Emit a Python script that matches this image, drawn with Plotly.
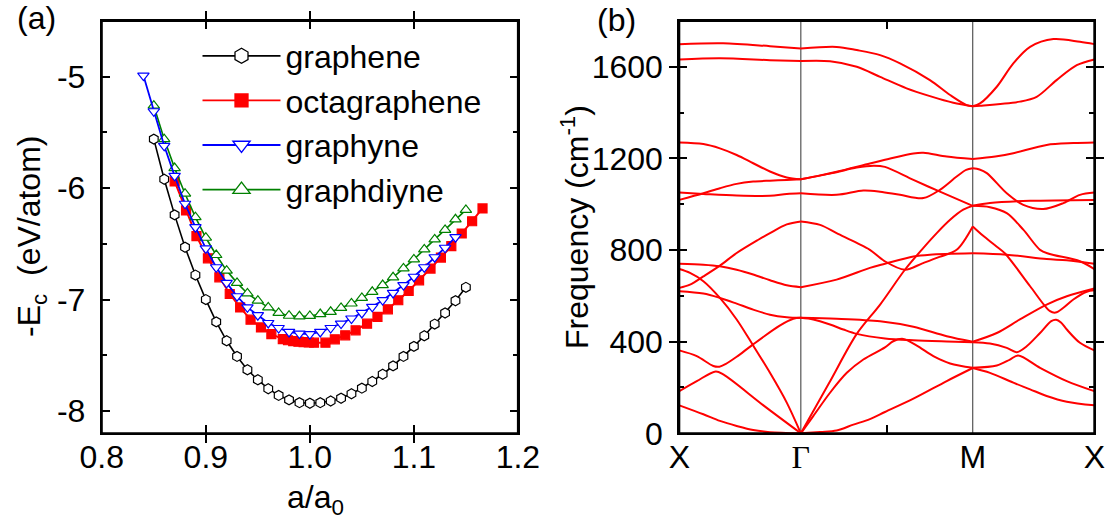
import plotly.graph_objects as go

# ---------------- panel (a): cohesive energy vs. lattice ratio ----------------
graphene_x = [0.85, 0.86, 0.87, 0.88, 0.89, 0.90, 0.91, 0.92, 0.93, 0.94, 0.95,
              0.96, 0.97, 0.98, 0.99, 1.00, 1.01, 1.02, 1.03, 1.04, 1.05, 1.06,
              1.07, 1.08, 1.09, 1.10, 1.11, 1.12, 1.13, 1.14, 1.15]
graphene_y = [-5.56, -5.92, -6.24, -6.53, -6.78, -7.00, -7.20, -7.37, -7.51, -7.63,
              -7.72, -7.80, -7.86, -7.90, -7.925, -7.93, -7.925, -7.91, -7.885,
              -7.845, -7.795, -7.735, -7.67, -7.595, -7.51, -7.42, -7.325, -7.22,
              -7.12, -7.01, -6.89]

octagraphene_x = [0.870, 0.881, 0.891, 0.902, 0.913, 0.923, 0.933, 0.943, 0.953, 0.963,
                  0.974, 0.979, 0.984, 0.989, 0.994, 0.999, 1.004,
                  1.015, 1.024, 1.034, 1.044, 1.055, 1.065, 1.075, 1.085, 1.095,
                  1.105, 1.116, 1.126, 1.136, 1.146, 1.156, 1.166]
octagraphene_y = [-5.94, -6.20, -6.43, -6.63, -6.80, -6.95, -7.07, -7.18, -7.25, -7.31,
                  -7.355, -7.365, -7.372, -7.378, -7.382, -7.385, -7.387,
                  -7.387, -7.357, -7.321, -7.276, -7.216, -7.156, -7.087, -7.006,
                  -6.923, -6.827, -6.722, -6.623, -6.521, -6.407, -6.297, -6.182]

graphyne_x = [0.84, 0.85, 0.86, 0.87, 0.88, 0.89, 0.90, 0.91, 0.92, 0.93, 0.94,
              0.95, 0.96, 0.97, 0.98, 0.99, 1.00, 1.01, 1.02, 1.03, 1.04, 1.05,
              1.06, 1.07, 1.08, 1.09, 1.10, 1.11, 1.12, 1.13, 1.14]
graphyne_y = [-4.99, -5.31, -5.62, -5.89, -6.14, -6.35, -6.54, -6.71, -6.85, -6.97,
              -7.07, -7.14, -7.21, -7.255, -7.29, -7.305, -7.31, -7.29, -7.255,
              -7.215, -7.17, -7.12, -7.065, -7.005, -6.94, -6.87, -6.795, -6.71,
              -6.62, -6.535, -6.44]

graphdiyne_x = [0.85, 0.86, 0.87, 0.88, 0.89, 0.90, 0.91, 0.92, 0.93, 0.94, 0.95,
                0.96, 0.97, 0.98, 0.99, 1.00, 1.01, 1.02, 1.03, 1.04, 1.05, 1.06,
                1.07, 1.08, 1.09, 1.10, 1.11, 1.12, 1.13, 1.14, 1.15]
graphdiyne_y = [-5.26, -5.56, -5.82, -6.05, -6.26, -6.445, -6.60, -6.74, -6.85, -6.945,
                -7.01, -7.07, -7.12, -7.145, -7.15, -7.147, -7.13, -7.11, -7.075,
                -7.035, -6.985, -6.93, -6.87, -6.80, -6.72, -6.64, -6.55, -6.46,
                -6.375, -6.28, -6.195]

a_xticks = [0.8, 0.9, 1.0, 1.1, 1.2]
a_xticklabels = ["0.8", "0.9", "1.0", "1.1", "1.2"]
a_yticks = [-8, -7, -6, -5]
a_yticklabels = ["-8", "-7", "-6", "-5"]
a_yminor = [-7.5, -6.5, -5.5]

# ---------------- panel (b): phonon dispersion of octagraphene ----------------
# path X -> Gamma -> M -> X of the square Brillouin zone (units of 2*pi/a)
K_X0 = 0.0
K_G = 0.5
K_M = 1.2071
K_X1 = 1.7071
b_xticks = [K_X0, K_G, K_M, K_X1]
b_xticklabels = ["X", "<span style=\"font-family:'Liberation Serif', serif\">\u0393</span>",
                 "M", "X"]
b_yticks = [0, 400, 800, 1200, 1600]
b_yminor = [200, 600, 1000, 1400]

# branches as (k, frequency in cm^-1)
band_01 = [(0, 122), (0.099, 83), (0.167, 54), (0.236, 32), (0.304, 14), (0.373, 5), (0.5, 0),
           (0.579, 6), (0.647, 12), (0.716, 38), (0.784, 62), (0.846, 93), (0.963, 151),
           (1.100, 228), (1.2071, 285),
           (1.278, 264), (1.374, 221), (1.443, 192), (1.511, 163), (1.594, 138), (1.7071, 122)]
band_02 = [(0, 184), (0.072, 228), (0.150, 270), (0.181, 257), (0.346, 122), (0.5, 0),
           (0.551, 75), (0.620, 177), (0.689, 264), (0.757, 322), (0.846, 375), (0.880, 402),
           (0.921, 412), (0.977, 383), (1.045, 337), (1.114, 305), (1.2071, 286),
           (1.306, 296), (1.360, 322), (1.394, 340), (1.484, 286), (1.594, 228), (1.7071, 184)]
band_03 = [(0, 717), (0.044, 700), (0.099, 664), (0.167, 591), (0.236, 497), (0.304, 383),
           (0.373, 264), (0.442, 134), (0.5, 0),
           (0.615, 217), (0.730, 434), (0.826, 562), (0.928, 714), (0.997, 801), (1.059, 874),
           (1.114, 932), (1.168, 976), (1.2071, 993),
           (1.278, 987), (1.347, 961), (1.415, 889), (1.484, 801), (1.520, 784), (1.648, 751),
           (1.7071, 717)]
band_04 = [(0, 362), (0.072, 337), (0.140, 294), (0.165, 291), (0.190, 302), (0.236, 334),
           (0.297, 383), (0.413, 470), (0.469, 500), (0.5, 504),
           (0.551, 497), (0.620, 475), (0.675, 453), (0.730, 434), (0.846, 414), (0.963, 406),
           (1.100, 401), (1.2071, 398),
           (1.278, 392), (1.347, 373), (1.388, 354), (1.429, 380), (1.484, 438), (1.530, 490),
           (1.550, 496), (1.570, 484), (1.594, 453), (1.648, 395), (1.7071, 362)]
band_05 = [(0, 620), (0.099, 610), (0.167, 591), (0.236, 566), (0.304, 540), (0.373, 518),
           (0.442, 507), (0.5, 504),
           (0.647, 500), (0.826, 489), (0.963, 465), (1.100, 424), (1.2071, 400),
           (1.306, 438), (1.401, 497), (1.511, 562), (1.594, 598), (1.7071, 632)]
band_06 = [(0, 740), (0.099, 736), (0.167, 729), (0.236, 714), (0.304, 693), (0.373, 668),
           (0.442, 646), (0.5, 638),
           (0.647, 671), (0.784, 722), (0.846, 740), (0.963, 772), (1.031, 780), (1.2071, 786),
           (1.347, 780), (1.511, 761), (1.594, 755), (1.7071, 740)]
band_07 = [(0, 635), (0.044, 649), (0.099, 685), (0.167, 732), (0.236, 787), (0.325, 845),
           (0.373, 874), (0.442, 912), (0.5, 925),
           (0.579, 910), (0.647, 874), (0.730, 831), (0.784, 801), (0.844, 752), (0.928, 714),
           (1.000, 742), (1.070, 770), (1.141, 801), (1.2071, 903),
           (1.250, 862), (1.300, 820), (1.340, 785), (1.443, 642), (1.525, 533), (1.548, 527),
           (1.580, 548), (1.621, 584), (1.676, 618), (1.7071, 624)]
band_08 = [(0, 1019), (0.099, 1048), (0.167, 1070), (0.236, 1089), (0.304, 1099), (0.373, 1103),
           (0.442, 1106), (0.5, 1109),
           (0.579, 1125), (0.647, 1140), (0.730, 1160), (0.800, 1168), (0.846, 1163),
           (0.963, 1106), (1.072, 1055), (1.2071, 993),
           (1.278, 1005), (1.443, 1015), (1.7071, 1019)]
band_09 = [(0, 1051), (0.099, 1045), (0.236, 1038), (0.373, 1037), (0.442, 1045), (0.5, 1048),
           (0.647, 1041), (0.757, 1060), (0.826, 1055), (0.908, 1041), (1.004, 1027),
           (1.072, 1063), (1.141, 1121), (1.180, 1150), (1.2071, 1157),
           (1.235, 1152), (1.265, 1136), (1.347, 1048), (1.415, 997), (1.497, 979),
           (1.580, 1005), (1.648, 1041), (1.7071, 1051)]
band_10 = [(0, 1270), (0.099, 1263), (0.167, 1244), (0.236, 1215), (0.304, 1179), (0.373, 1143),
           (0.442, 1117), (0.5, 1109),
           (0.579, 1126), (0.647, 1142), (0.784, 1178), (0.846, 1194), (0.963, 1222),
           (1.004, 1225), (1.100, 1208), (1.2071, 1197),
           (1.300, 1208), (1.374, 1223), (1.511, 1259), (1.621, 1267), (1.7071, 1270)]
band_11 = [(0, 1632), (0.167, 1637), (0.373, 1629), (0.5, 1625),
           (0.620, 1624), (0.730, 1600), (0.826, 1556), (0.935, 1506), (1.031, 1472),
           (1.127, 1443), (1.2071, 1428),
           (1.237, 1430), (1.401, 1448), (1.470, 1469), (1.552, 1542), (1.635, 1607),
           (1.7071, 1632)]
band_12 = [(0, 1699), (0.180, 1703), (0.373, 1690), (0.5, 1680),
           (0.647, 1687), (0.730, 1673), (0.826, 1651), (0.908, 1615), (1.031, 1542),
           (1.114, 1477), (1.182, 1433), (1.2071, 1428),
           (1.237, 1440), (1.306, 1513), (1.374, 1615), (1.443, 1687), (1.539, 1721),
           (1.648, 1709), (1.7071, 1699)]

bands = [band_01, band_02, band_03, band_04, band_05, band_06,
         band_07, band_08, band_09, band_10, band_11, band_12]

# ---------------- styling ----------------
W, H = 1117, 525
FONT = "Liberation Sans, Arial, sans-serif"
FS = 32


def fx(px):
    return px / W


def fy(py):
    return 1 - py / H


fig = go.Figure()

# panel (a) curves (graphyne drawn last, on top)
series_a = [
    ("graphene", graphene_x, graphene_y, "black", "hexagon", 10, 1.6),
    ("octagraphene", octagraphene_x, octagraphene_y, "#ff0000", "square", 9, 2.0),
    ("graphdiyne", graphdiyne_x, graphdiyne_y, "#008000", "triangle-up", 10, 1.6),
    ("graphyne", graphyne_x, graphyne_y, "#0000ff", "triangle-down", 10, 1.8),
]
for name, xs, ys, col, sym, size, lw in series_a:
    filled = sym == "square"
    fig.add_trace(go.Scatter(
        x=xs, y=ys, mode="lines+markers", name=name, showlegend=False,
        line=dict(color=col, width=lw),
        marker=dict(symbol=sym, size=size, color=col if filled else "white",
                    line=dict(color=col, width=1.2)),
        xaxis="x", yaxis="y"))

# legend entries (larger symbols than the plotted markers)
legend_order = [
    ("graphene", "black", "hexagon", 15),
    ("octagraphene", "#ff0000", "square", 13),
    ("graphyne", "#0000ff", "triangle-down", 15),
    ("graphdiyne", "#008000", "triangle-up", 15),
]
for name, col, sym, size in legend_order:
    filled = sym == "square"
    fig.add_trace(go.Scatter(
        x=[None], y=[None], mode="lines+markers", name=name, showlegend=True,
        line=dict(color=col, width=1.8),
        marker=dict(symbol=sym, size=size, color=col if filled else "white",
                    line=dict(color=col, width=1.3)),
        xaxis="x", yaxis="y"))


# panel (b): split every branch at Gamma and M so the kinks stay sharp
def split_path(points):
    segs, cur = [], [points[0]]
    for k, f in points[1:]:
        cur.append((k, f))
        if abs(k - K_G) < 1e-3 or abs(k - K_M) < 1e-3:
            segs.append(cur)
            cur = [(k, f)]
    if len(cur) > 1:
        segs.append(cur)
    return segs


for band in bands:
    for seg in split_path(band):
        fig.add_trace(go.Scatter(
            x=[p[0] for p in seg], y=[p[1] for p in seg], mode="lines",
            line=dict(color="#ff0000", width=2, shape="spline", smoothing=0.9),
            showlegend=False, hoverinfo="skip", xaxis="x2", yaxis="y2"))

# empty traces that hook up the overlay axes carrying the minor ticks
for xa, ya in (("x", "y3"), ("x3", "y2"), ("x2", "y4")):
    fig.add_trace(go.Scatter(x=[None], y=[None], mode="lines", showlegend=False,
                             hoverinfo="skip", xaxis=xa, yaxis=ya))

axis_common = dict(showline=True, linewidth=2, linecolor="black", mirror="allticks",
                   ticks="inside", ticklen=8, tickwidth=2, tickcolor="black",
                   showgrid=False, zeroline=False, automargin=False,
                   tickfont=dict(family=FONT, size=FS, color="black"))
minor_common = dict(showline=False, mirror="allticks", ticks="inside", ticklen=5,
                    tickwidth=2, tickcolor="black", showgrid=False, zeroline=False,
                    automargin=False, showticklabels=False, tickmode="array")

DOM_A_X = [fx(101.8), fx(517.9)]
DOM_B_X = [fx(679.3), fx(1094.3)]
DOM_Y = [fy(433.3), fy(21)]

frame = dict(color="black", width=2)

fig.update_layout(
    width=W, height=H, margin=dict(l=0, r=0, t=0, b=0, autoexpand=False),
    paper_bgcolor="white", plot_bgcolor="white",
    font=dict(family=FONT, size=FS, color="black"),
    xaxis=dict(domain=DOM_A_X, range=[0.8, 1.2], anchor="y",
               tickmode="array", tickvals=a_xticks, ticktext=a_xticklabels,
               ticklabelstandoff=-6, **axis_common),
    yaxis=dict(domain=DOM_Y, range=[-8.2, -4.5], anchor="x",
               tickmode="array", tickvals=a_yticks, ticktext=a_yticklabels,
               ticklabelstandoff=8, **axis_common),
    yaxis3=dict(overlaying="y", anchor="x", range=[-8.2, -4.5], tickvals=a_yminor,
                **minor_common),
    xaxis2=dict(domain=DOM_B_X, range=[K_X0, K_X1], anchor="y2",
                tickmode="array", tickvals=b_xticks, ticktext=b_xticklabels,
                ticklabelstandoff=-6, **{**axis_common, "ticks": ""}),
    xaxis3=dict(overlaying="x2", anchor="y2", range=[K_X0, K_X1], tickvals=[K_X1 / 2],
                **{**minor_common, "ticklen": 8}),
    yaxis2=dict(domain=DOM_Y, range=[0, 1800], anchor="x2",
                tickmode="array", tickvals=b_yticks,
                ticklabelstandoff=8, **axis_common),
    yaxis4=dict(overlaying="y2", anchor="x2", range=[0, 1800], tickvals=b_yminor,
                **minor_common),
    legend=dict(x=fx(197.5), y=fy(28.5), xanchor="left", yanchor="top",
                bgcolor="rgba(0,0,0,0)", borderwidth=0, itemwidth=78,
                font=dict(family=FONT, size=FS, color="black"), tracegroupgap=0),
    shapes=[
        # full frame around each panel
        dict(type="rect", xref="x domain", yref="y domain", x0=0, x1=1, y0=0, y1=1,
             line=frame, layer="above"),
        dict(type="rect", xref="x2 domain", yref="y2 domain", x0=0, x1=1, y0=0, y1=1,
             line=frame, layer="above"),
        # high-symmetry markers at Gamma and M
        dict(type="line", xref="x2", yref="y2 domain", x0=K_G, x1=K_G, y0=0, y1=1,
             line=dict(color="#333333", width=1), layer="below"),
        dict(type="line", xref="x2", yref="y2 domain", x0=K_M, x1=K_M, y0=0, y1=1,
             line=dict(color="#333333", width=1), layer="below"),
    ],
    annotations=[
        dict(text="(a)", x=fx(36), y=fy(18), xref="paper", yref="paper",
             showarrow=False, xanchor="center", yanchor="middle", font=dict(size=FS)),
        dict(text="(b)", x=fx(616), y=fy(20), xref="paper", yref="paper",
             showarrow=False, xanchor="center", yanchor="middle", font=dict(size=FS)),
        dict(text="-E<sub>c</sub>  (eV/atom)", x=fx(32), y=fy(237), xref="paper", yref="paper",
             showarrow=False, textangle=-90, xanchor="center", yanchor="middle",
             font=dict(size=FS)),
        dict(text="a/a<sub>0</sub>", x=fx(315), y=fy(499), xref="paper", yref="paper",
             showarrow=False, xanchor="center", yanchor="middle", font=dict(size=FS)),
        dict(text="Frequency (cm<sup>-1</sup>)", x=fx(575), y=fy(227), xref="paper",
             yref="paper", showarrow=False, textangle=-90, xanchor="center",
             yanchor="middle", font=dict(size=FS)),
    ],
)

fig.write_html("out.html")
